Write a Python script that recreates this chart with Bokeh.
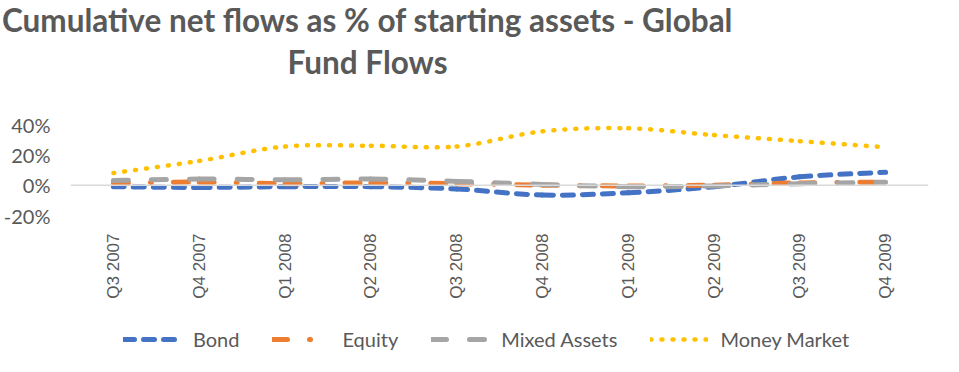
import numpy as np
from bokeh.plotting import figure
from bokeh.layouts import column
from bokeh.models import (Span, Label, Legend, LegendItem, FixedTicker,
                          PrintfTickFormatter, Range1d, ColumnDataSource)
from bokeh.embed import file_html
from bokeh.resources import INLINE

categories = ["Q3 2007", "Q4 2007", "Q1 2008", "Q2 2008", "Q3 2008",
              "Q4 2008", "Q1 2009", "Q2 2009", "Q3 2009", "Q4 2009"]
bond = [-1, -1.5, -1, -1, -2.5, -6.5, -5, -1, 5.5, 8.5]
equity = [1.5, 2, 1, 1.5, 1, 0, -0.5, 0, 1.5, 2]
mixed = [3, 4, 3.5, 4, 2.5, 0.5, -1, -0.5, 1, 2]
money_market = [8, 16, 25.5, 26, 25.5, 35.5, 37.5, 33, 29, 25]
y_ticks = [-20, 0, 20, 40]
title_lines = ["Cumulative net flows as % of starting assets - Global", "Fund Flows"]

TEXT = "#595959"
FONT = "Lato"
W = 943
H_TOP, H_MAIN, H_LEG = 100, 210, 46
FRAME_LEFT = 69


def blank_fig(h):
    f = figure(width=W, height=h, output_backend="svg", toolbar_location=None,
               x_range=Range1d(0, 1), y_range=Range1d(0, 1),
               min_border=0)
    f.axis.visible = False
    f.grid.visible = False
    f.outline_line_color = None
    f.background_fill_color = "white"
    f.border_fill_color = "white"
    return f


top = blank_fig(H_TOP)
leg = blank_fig(H_LEG)

# keep the title / legend strips from being aligned to the chart frame
shift = FRAME_LEFT
try:
    top.frame_align = False
    leg.frame_align = False
    shift = 0
except Exception:
    shift = FRAME_LEFT

# ---- title ----
title_x = 367 if shift == 0 else 362
for txt, yy in zip(title_lines, [81, 39]):
    top.add_layout(Label(x=title_x, y=yy, x_units="screen", y_units="screen",
                         text=txt, text_align="center", text_baseline="middle",
                         text_font=FONT, text_font_style="bold",
                         text_font_size="31.5px", text_color=TEXT))

# ---- main chart ----
p = figure(width=W, height=H_MAIN, output_backend="svg", toolbar_location=None,
           x_range=Range1d(-0.5, len(categories) - 0.5),
           y_range=Range1d(-20, 40),
           min_border_left=FRAME_LEFT, min_border_right=15,
           min_border_top=24, min_border_bottom=95)
p.outline_line_color = None
p.grid.visible = False
p.background_fill_color = "white"
p.border_fill_color = "white"

p.xaxis.ticker = FixedTicker(ticks=list(range(len(categories))))
p.xaxis.major_label_overrides = {i: c for i, c in enumerate(categories)}
p.xaxis.major_label_orientation = np.pi / 2
p.xaxis.axis_line_color = None
p.xaxis.major_tick_line_color = None
p.xaxis.minor_tick_line_color = None
p.xaxis.major_label_standoff = 12
p.xaxis.major_label_text_font = "Liberation Sans"
p.xaxis.major_label_text_font_size = "17px"
p.xaxis.major_label_text_color = TEXT

p.yaxis.ticker = FixedTicker(ticks=y_ticks)
p.yaxis.formatter = PrintfTickFormatter(format="%d%%")
p.yaxis.axis_line_color = None
p.yaxis.major_tick_line_color = None
p.yaxis.minor_tick_line_color = None
p.yaxis.major_label_standoff = 14
p.yaxis.major_label_text_font = FONT
p.yaxis.major_label_text_font_size = "20px"
p.yaxis.major_label_text_color = TEXT

p.add_layout(Span(location=0, dimension="width", line_color="#D9D9D9", line_width=1.5))


def smooth_segments(ys):
    xs = np.arange(len(ys), dtype=float)
    ys = np.asarray(ys, dtype=float)
    n = len(xs)
    d = dict(x0=[], y0=[], x1=[], y1=[], cx0=[], cy0=[], cx1=[], cy1=[])
    for i in range(n - 1):
        a = max(i - 1, 0)
        b = min(i + 2, n - 1)
        d["x0"].append(xs[i]); d["y0"].append(ys[i])
        d["x1"].append(xs[i + 1]); d["y1"].append(ys[i + 1])
        d["cx0"].append(xs[i] + (xs[i + 1] - xs[a]) / 6)
        d["cy0"].append(ys[i] + (ys[i + 1] - ys[a]) / 6)
        d["cx1"].append(xs[i + 1] - (xs[b] - xs[i]) / 6)
        d["cy1"].append(ys[i + 1] - (ys[b] - ys[i]) / 6)
    return ColumnDataSource(d)


series = [
    ("Bond", bond, "#4472C4", 5, "11 9"),
    ("Equity", equity, "#ED7D31", 5, "15 22 1 22"),
    ("Mixed Assets", mixed, "#A5A5A5", 5, "15 23"),
    ("Money Market", money_market, "#FFC000", 4.5, "1 10"),
]

# ---- legend strip ----
items = []
for name, ys, color, lw, dash in series:
    src = smooth_segments(ys)
    p.bezier(x0="x0", y0="y0", x1="x1", y1="y1", cx0="cx0", cy0="cy0",
             cx1="cx1", cy1="cy1", source=src, line_color=color,
             line_width=lw, line_dash=dash, line_cap="round")
    dummy = leg.line(x=[0, 1], y=[-1000, -1000], line_color=color, line_width=lw,
                     line_dash=dash, line_cap="round")
    items.append(LegendItem(label=name, renderers=[dummy]))

legend = Legend(items=items, orientation="horizontal",
                location=(54 + FRAME_LEFT - shift, 5),
                glyph_width=58, glyph_height=20, label_standoff=12, spacing=33,
                padding=0, margin=0, border_line_color=None,
                background_fill_alpha=0,
                label_text_font=FONT, label_text_font_size="20px",
                label_text_color=TEXT)
leg.add_layout(legend, "center")

layout = column(top, p, leg, spacing=0)
open("out.html", "w").write(file_html(layout, INLINE))
